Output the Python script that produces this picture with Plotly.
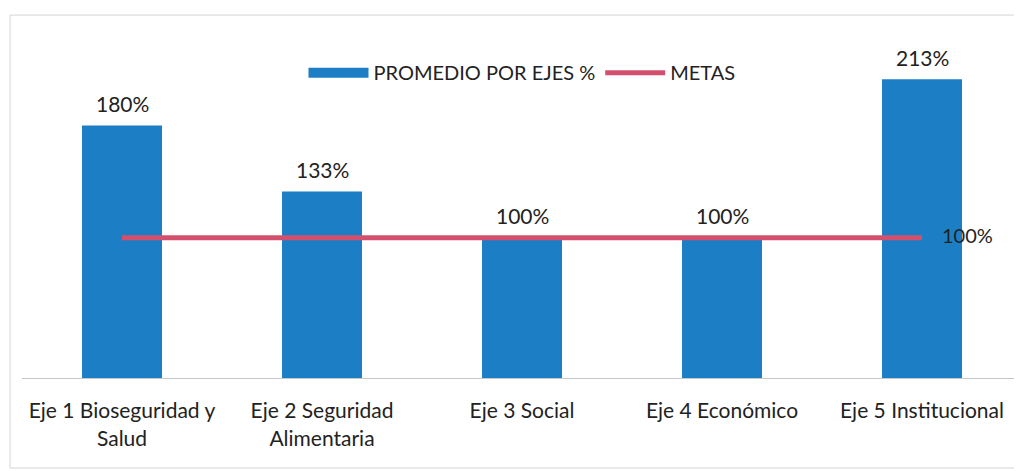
import plotly.graph_objects as go

categories = ["Eje 1 Bioseguridad y<br>Salud", "Eje 2 Seguridad<br>Alimentaria", "Eje 3 Social",
              "Eje 4 Económico", "Eje 5 Institucional"]
promedio = [1.80, 1.33, 1.00, 1.00, 2.13]
metas = [1.00, 1.00, 1.00, 1.00, 1.00]
bar_labels = ["180%", "133%", "100%", "100%", "213%"]
meta_labels = ["", "", "", "", "100%"]

FONT = "Lato, 'Open Sans', sans-serif"
BLUE = "#1c7fc5"
PINK = "#d2506e"

fig = go.Figure()
fig.add_trace(go.Bar(
    x=categories, y=promedio, name="PROMEDIO POR EJES %",
    marker=dict(color=BLUE, line=dict(width=0)),
    width=0.4, showlegend=False,
))
# legend proxy: wide blue swatch like the original
fig.add_trace(go.Scatter(
    x=[None], y=[None], name="PROMEDIO POR EJES %", mode="lines",
    line=dict(color=BLUE, width=13), showlegend=True,
))
fig.add_trace(go.Scatter(
    x=categories, y=metas, name="METAS", mode="lines",
    line=dict(color=PINK, width=5),
))

for cat, val, lab in zip(categories, promedio, bar_labels):
    fig.add_annotation(x=cat, y=val, text=lab, showarrow=False, yshift=22,
                       font=dict(size=21, color="#222222", family=FONT))
for cat, val, lab in zip(categories, metas, meta_labels):
    if lab:
        fig.add_annotation(x=cat, y=val, text=lab, showarrow=False, xanchor="left", xshift=18,
                           yshift=3, font=dict(size=20, color="#222222", family=FONT))

fig.add_shape(type="rect", xref="paper", yref="paper", x0=-0.012, x1=1.01, y0=-0.261, y1=1.052,
              line=dict(color="#d4d4d4", width=1), fillcolor="rgba(0,0,0,0)", layer="below")

fig.update_layout(
    width=1022, height=471,
    margin=dict(l=14, r=8, t=25, b=101),
    paper_bgcolor="white", plot_bgcolor="white",
    font=dict(family=FONT, size=20, color="#222222"),
    showlegend=True,
    legend=dict(orientation="h", x=0.50, xanchor="center", y=0.885, yanchor="middle",
                font=dict(size=20, family=FONT, color="#222222"), bgcolor="rgba(0,0,0,0)",
                itemwidth=60, tracegroupgap=0, traceorder="normal"),
    xaxis=dict(showline=True, linecolor="#c8c8c8", linewidth=1, ticks="", showgrid=False,
               automargin=False, ticklabelstandoff=14,
               tickfont=dict(size=21, family=FONT, color="#222222")),
    yaxis=dict(range=[0, 2.46], visible=False, showgrid=False, zeroline=False, automargin=False),
)

fig.write_html("out.html")
